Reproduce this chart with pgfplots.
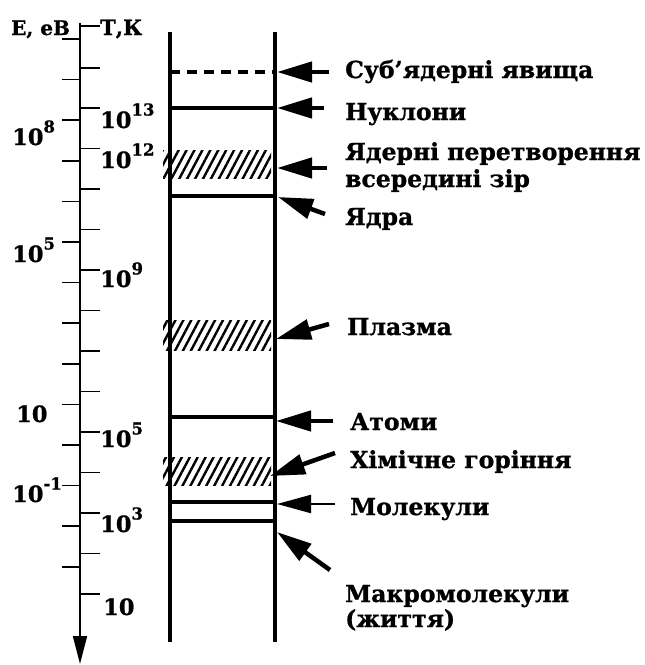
\documentclass[border=0pt]{standalone}
\usepackage{fontspec}
\setmainfont{DejaVu Serif}[BoldFeatures={FakeBold=1}]
\usepackage{pgfplots}
\pgfplotsset{compat=1.18}
\usetikzlibrary{arrows.meta,patterns.meta}
\newcommand{\lab}{\fontsize{23.5}{27}\selectfont\bfseries}
\newcommand{\pw}[2]{{\fontsize{22.5}{25}\selectfont\bfseries #1\raisebox{12.5pt}{\fontsize{16.5}{16}\selectfont #2}}}
\begin{document}
\begin{tikzpicture}
\begin{axis}[x=1pt, y=1pt, y dir=reverse, xmin=0, xmax=645, ymin=0, ymax=665,
  hide axis, clip=false, scale only axis]
% bounding helper
\addplot[draw=none] coordinates {(0,0) (645,665)};
% left scale axis
\addplot[line width=1.8pt, -{Triangle[length=28pt,width=14pt]}] coordinates {(80,23) (80,664)};
% right ticks (T)
\pgfplotsinvokeforeach{26,68,108,148.5,189,229.5,270,310.5,351,391.5,432,472.5,513,553.5,594}{
  \addplot[line width=1.6pt] coordinates {(80,#1) (100,#1)};
}
% left ticks (E)
\pgfplotsinvokeforeach{39,79.6,120.2,160.8,201.4,242,282.6,323.2,363.8,404.4,445,485.6,526.2,566.8}{
  \addplot[line width=1.6pt] coordinates {(62,#1) (80,#1)};
}
% main box
\addplot[line width=4pt] coordinates {(170,32) (170,642)};
\addplot[line width=4pt] coordinates {(275,32) (275,642)};
% levels
\addplot[line width=4pt, dash pattern=on 10pt off 7pt] coordinates {(170,72) (275,72)};
\addplot[line width=4pt] coordinates {(170,108) (275,108)};
\addplot[line width=4pt] coordinates {(170,196) (275,196)};
\addplot[line width=4pt] coordinates {(170,417) (275,417)};
\addplot[line width=4pt] coordinates {(170,502) (275,502)};
\addplot[line width=4pt] coordinates {(170,521) (275,521)};
% hatched bands
\addplot[draw=none, pattern={Lines[angle=62, distance=7pt, line width=2.4pt]}] coordinates {(163,150) (271,150) (271,178) (163,178)} -- cycle;
\addplot[draw=none, pattern={Lines[angle=62, distance=7pt, line width=2.4pt]}] coordinates {(163,320) (271,320) (271,350) (163,350)} -- cycle;
\addplot[draw=none, pattern={Lines[angle=62, distance=7pt, line width=2.4pt]}] coordinates {(163,457) (271,457) (271,485) (163,485)} -- cycle;
% arrows
\addplot[line width=4.5pt, -{Triangle[length=35pt,width=20pt]}] coordinates {(329,72) (277,72)};
\addplot[line width=4.5pt, -{Triangle[length=35pt,width=20pt]}] coordinates {(324,108) (277,108)};
\addplot[line width=4.5pt, -{Triangle[length=35pt,width=20pt]}] coordinates {(327,168) (277,168)};
\addplot[line width=4.5pt, -{Triangle[length=35pt,width=20pt]}] coordinates {(325,214) (278,197)};
\addplot[line width=4.5pt, -{Triangle[length=35pt,width=20pt]}] coordinates {(329,324) (276,339)};
\addplot[line width=4.5pt, -{Triangle[length=35pt,width=20pt]}] coordinates {(333,421) (276,421)};
\addplot[line width=4.5pt, -{Triangle[length=35pt,width=20pt]}] coordinates {(335,453) (270,476)};
\addplot[line width=2.2pt, -{Triangle[length=34pt,width=18pt]}] coordinates {(335,504) (277,504)};
\addplot[line width=4.5pt, -{Triangle[length=35pt,width=20pt]}] coordinates {(330,570) (277,532)};
% titles
\node[anchor=base west, inner sep=0] at (axis cs:11,35) {\fontsize{20}{22}\selectfont\bfseries Е, еВ};
\node[anchor=base west, inner sep=0] at (axis cs:100,35) {\fontsize{21}{22}\selectfont\bfseries Т,К};
% E labels
\node[anchor=base west, inner sep=0] at (axis cs:12,145) {\pw{10}{8}};
\node[anchor=base west, inner sep=0] at (axis cs:12,262) {\pw{10}{5}};
\node[anchor=base west, inner sep=0] at (axis cs:16,422) {\pw{10}{}};
\node[anchor=base west, inner sep=0] at (axis cs:12,502) {\pw{10}{-1}};
% T labels
\node[anchor=base west, inner sep=0] at (axis cs:100,128) {\pw{10}{13}};
\node[anchor=base west, inner sep=0] at (axis cs:100,168) {\pw{10}{12}};
\node[anchor=base west, inner sep=0] at (axis cs:100,287) {\pw{10}{9}};
\node[anchor=base west, inner sep=0] at (axis cs:100,447) {\pw{10}{5}};
\node[anchor=base west, inner sep=0] at (axis cs:100,532) {\pw{10}{3}};
\node[anchor=base west, inner sep=0] at (axis cs:103,615) {\pw{10}{}};
% category labels
\node[anchor=base west, inner sep=0] at (axis cs:345,78) {\lab Суб’ядерні явища};
\node[anchor=base west, inner sep=0] at (axis cs:345,120) {\lab Нуклони};
\node[anchor=base west, inner sep=0] at (axis cs:345,160) {\lab Ядерні перетворення};
\node[anchor=base west, inner sep=0] at (axis cs:345,187) {\lab всередині зір};
\node[anchor=base west, inner sep=0] at (axis cs:345,225) {\lab Ядра};
\node[anchor=base west, inner sep=0] at (axis cs:347,335) {\lab Плазма};
\node[anchor=base west, inner sep=0] at (axis cs:350,430) {\lab Атоми};
\node[anchor=base west, inner sep=0] at (axis cs:350,468) {\lab Хімічне горіння};
\node[anchor=base west, inner sep=0] at (axis cs:350,515) {\lab Молекули};
\node[anchor=base west, inner sep=0] at (axis cs:345,602) {\lab Макромолекули};
\node[anchor=base west, inner sep=0] at (axis cs:345,627) {\lab (життя)};
\end{axis}
\end{tikzpicture}
\end{document}
